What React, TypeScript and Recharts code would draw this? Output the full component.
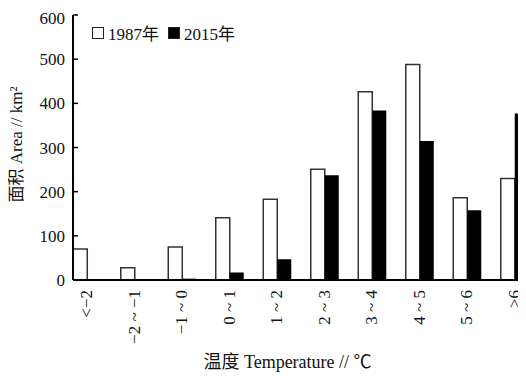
import React from "react";
import { BarChart, Bar, XAxis, YAxis, Legend } from "recharts";

const categories = ["<−2", "−2 ~ −1", "−1 ~ 0", "0 ~ 1", "1 ~ 2", "2 ~ 3", "3 ~ 4", "4 ~ 5", "5 ~ 6", ">6"];
const area1987 = [70, 28, 75, 141, 183, 251, 426, 488, 186, 230];
const area2015 = [0, 0, 3, 17, 47, 237, 384, 315, 158, 377];
const yTicks = [0, 100, 200, 300, 400, 500, 600];
const seriesNames = ["1987年", "2015年"];

const FONT = '"Liberation Serif", "Noto Sans CJK SC", serif';

const data = categories.map((c, i) => ({
  idx: i,
  cat: c,
  a1987: area1987[i],
  a2015: area2015[i],
}));

const XTick = (props: any) => {
  const { x, y, payload } = props;
  const label = categories[payload.value] ?? "";
  return (
    <g transform={`translate(${x},${y})`}>
      <text
        transform="rotate(-90)"
        textAnchor="end"
        dy="0.32em"
        fontSize={17}
        fontFamily={FONT}
        fill="#111"
        style={{ whiteSpace: "pre" }}
      >
        {label}
      </text>
    </g>
  );
};

const LegendContent = (props: any) => {
  const { payload } = props;
  return (
    <div style={{ display: "flex", alignItems: "center", fontFamily: FONT, fontSize: 17, color: "#111" }}>
      {(payload || []).map((p: any, i: number) => (
        <div key={i} style={{ display: "flex", alignItems: "center", marginRight: 9 }}>
          <span
            style={{
              display: "inline-block",
              width: 10,
              height: 10,
              border: "1.5px solid #222",
              background: i === 0 ? "#fff" : "#000",
              marginRight: 4,
            }}
          />
          <span>{p.value}</span>
        </div>
      ))}
    </div>
  );
};

export default function App() {
  return (
    <div style={{ width: 518, height: 368, background: "#fff" }}>
      <BarChart
        width={518}
        height={368}
        data={data}
        margin={{ top: 7, right: 0, bottom: 8, left: 0 }}
        barGap={0}
      >
        <XAxis
          dataKey="idx"
          type="number"
          domain={[-0.295, 9.242]}
          allowDataOverflow
          ticks={[0, 1, 2, 3, 4, 5, 6, 7, 8, 9]}
          tick={XTick}
          tickLine={false}
          tickSize={0}
          tickMargin={10}
          height={88}
          axisLine={{ stroke: "#000", strokeWidth: 2 }}
          label={{
            value: "温度 Temperature // ℃",
            position: "insideBottom",
            offset: 0,
            dx: -12,
            fontSize: 18,
            fontFamily: FONT,
            fill: "#111",
          }}
        />
        <YAxis
          type="number"
          domain={[0, 600]}
          ticks={yTicks}
          width={65}
          tickSize={-5}
          tickMargin={13}
          tickLine={{ stroke: "#000", strokeWidth: 1.5 }}
          axisLine={{ stroke: "#000", strokeWidth: 2 }}
          tick={{ fontSize: 17, fontFamily: FONT, fill: "#111" }}
          label={{
            value: "面积 Area // km²",
            angle: -90,
            position: "insideLeft",
            offset: 8,
            dy: -3,
            textAnchor: "middle",
            fontSize: 17,
            fontFamily: FONT,
            fill: "#111",
          }}
        />
        <Legend
          layout="horizontal"
          verticalAlign="middle"
          align="center"
          wrapperStyle={{ top: 12, left: 84, width: "auto" }}
          content={LegendContent}
        />
        <Bar
          dataKey="a1987"
          name={seriesNames[0]}
          fill="#fff"
          stroke="#333"
          strokeWidth={1.5}
          barSize={14}
          isAnimationActive={false}
        />
        <Bar
          dataKey="a2015"
          name={seriesNames[1]}
          fill="#000"
          barSize={14}
          isAnimationActive={false}
        />
      </BarChart>
    </div>
  );
}
